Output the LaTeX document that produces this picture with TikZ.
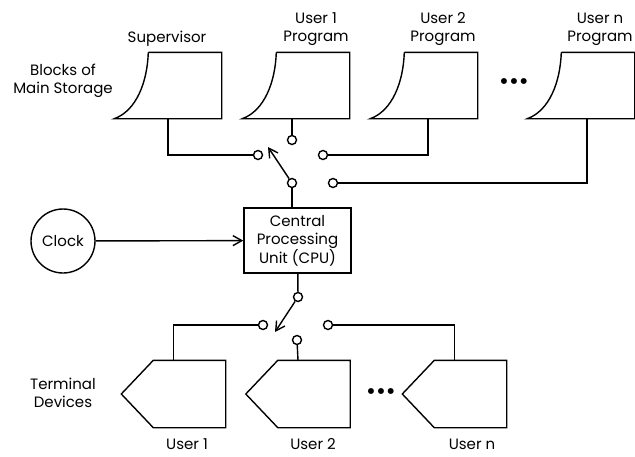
\documentclass[tikz,border=0pt]{standalone}
\usepackage{fontspec}
\setmainfont{Poppins}
\usetikzlibrary{arrows.meta,positioning,calc}

\tikzset{
  storage/.style={minimum width=106pt, minimum height=65pt, inner sep=0pt},
  terminal/.style={minimum width=103pt, minimum height=66pt, inner sep=0pt},
  contact/.style={draw, circle, fill=white, inner sep=0pt, minimum size=9pt},
  lbl/.style={align=center, inner sep=1pt, font=\fontsize{15}{18}\selectfont},
  dots/.style={font=\fontsize{24}{24}\selectfont, inner sep=0pt},
  pointer/.style={-{Straight Barb[length=9pt,width=10pt]}},
}

\begin{document}
\begin{tikzpicture}[x=1pt, y=-1pt, line width=1.4pt]
  \useasboundingbox (0,0) rectangle (635,456);

  % blocks of main storage
  \node[storage] (sup) at (168,85.5) {};
  \node[storage] (ua) at (296,85.5) {};
  \node[storage] (ub) at (424,85.5) {};
  \node[storage] (un) at (581,85.5) {};
  \foreach \b in {sup,ua,ub,un}
    \draw ($(\b.north west)+(34,0)$) -- (\b.north east) -- (\b.south east)
      -- (\b.south west) .. controls ($(\b.south west)+(22,-8)$)
      and ($(\b.north west)+(33,30)$) .. ($(\b.north west)+(34,0)$);

  \node[lbl] (suplbl) at (167,39) {Supervisor};
  \node[lbl] (ualbl) at (316,29) {User 1\\Program};
  \node[lbl] (ublbl) at (443,29) {User 2\\Program};
  \node[lbl] (unlbl) at (600,29) {User n\\Program};
  \node[lbl] (storelbl) at (63,81) {Blocks of\\Main Storage};
  \node[dots] (topdots) at (514,84) {•••};

  % central processing unit and clock
  \node[draw, lbl, minimum width=107pt, minimum height=65pt, inner sep=0pt] (cpu) at (297.5,240.5)
    {Central\\Processing\\Unit (CPU)};
  \node[draw, circle, lbl, minimum size=64pt, inner sep=0pt] (clock) at (63,241) {Clock};
  \draw[pointer] (clock) -- (cpu);

  % upper switch
  \node[contact] (tp) at (292,183) {};
  \node[contact] (ta) at (292,140) {};
  \node[contact] (tb) at (258,155) {};
  \node[contact] (tc) at (323,155) {};
  \node[contact] (td) at (333,183) {};
  \coordinate (ttip) at (268,147);
  \draw (sup.south) |- (tb);
  \draw (ta |- ua.south) -- (ta);
  \draw (tc) -| ([xshift=4pt]ub.south);
  \draw (td) -| ([xshift=6pt]un.south);
  \draw[pointer] (tp) -- (ttip);
  \draw (tp) -- (tp |- cpu.north);

  % terminal devices
  \node[terminal] (t1) at (173.5,394) {};
  \node[terminal] (t2) at (298,394) {};
  \node[terminal] (tn) at (454.5,394) {};
  \foreach \t in {t1,t2,tn}
    \draw ($(\t.north west)+(32,0)$) -- (\t.north east) -- (\t.south east)
      -- ($(\t.south west)+(32,0)$) -- (\t.west) -- cycle;
  \node[lbl] (t1lbl) at (187,444) {User 1};
  \node[lbl] (t2lbl) at (313,444) {User 2};
  \node[lbl] (tnlbl) at (472,444) {User n};
  \node[lbl] (termlbl) at (63,393) {Terminal\\Devices};
  \node[dots] (botdots) at (381,394) {•••};

  % lower switch
  \node[contact] (bp) at (298,297) {};
  \node[contact] (ba) at (263,325) {};
  \node[contact] (bb) at (297,340) {};
  \node[contact] (bc) at (328,325) {};
  \coordinate (btip) at (275,332);
  \draw (cpu) -- (bp);
  \draw[pointer] (bp) -- (btip);
  \draw (ba) -| (t1.north);
  \draw (bb) -- (t2.north);
  \draw (bc) -| (tn.north);
\end{tikzpicture}
\end{document}
